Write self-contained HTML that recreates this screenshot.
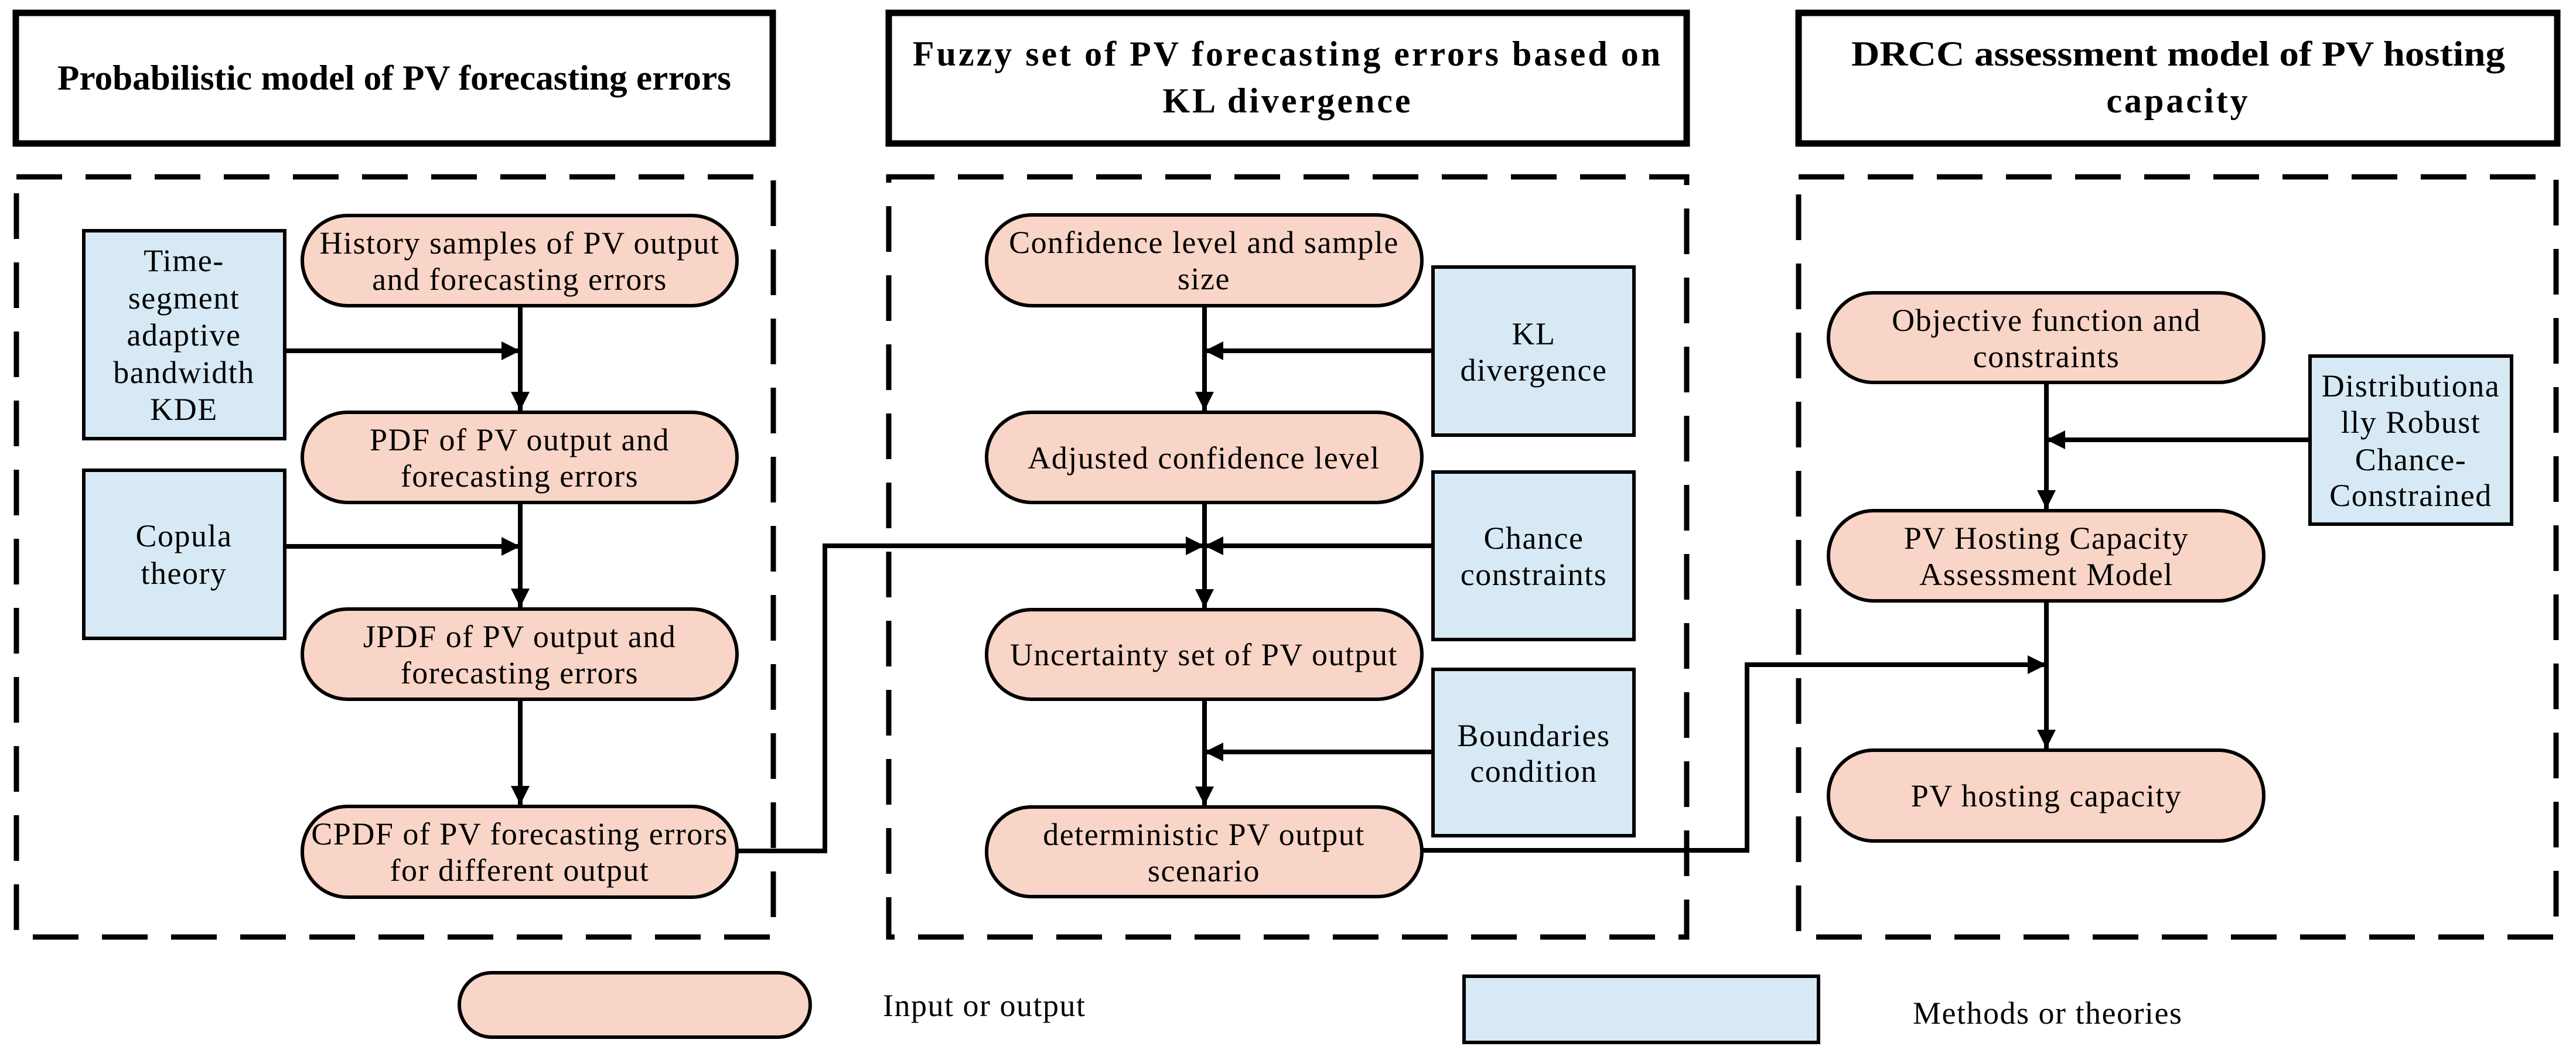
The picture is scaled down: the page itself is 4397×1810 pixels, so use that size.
<!DOCTYPE html>
<html><head><meta charset="utf-8"><style>
html,body{margin:0;padding:0;background:#fff;}
svg{display:block;}
text{font-family:"Liberation Serif",serif;fill:#000;}
.t{font-size:60px;font-weight:bold;letter-spacing:4px;}
.b{font-size:54px;letter-spacing:1.5px;}
</style></head><body>
<svg width="4397" height="1810" viewBox="0 0 4397 1810" xmlns="http://www.w3.org/2000/svg">
<defs>
<marker id="a" viewBox="0 0 10 10" refX="10" refY="5" markerWidth="4" markerHeight="4" markerUnits="strokeWidth" orient="auto"><path d="M0,0L10,5L0,10z" fill="#000"/></marker>
</defs>
<g fill="#fff" stroke="#000" stroke-width="11">
<rect x="27" y="22" width="1292" height="223"/>
<rect x="1517" y="22" width="1362" height="223"/>
<rect x="3070" y="22" width="1295" height="223"/>
</g>
<text class="t" x="98" y="153" textLength="1150" lengthAdjust="spacingAndGlyphs" style="letter-spacing:0">Probabilistic model of PV forecasting errors</text>
<text class="t" x="2198" y="112" text-anchor="middle">Fuzzy set of PV forecasting errors based on</text>
<text class="t" x="2198" y="192" text-anchor="middle">KL divergence</text>
<text class="t" x="3160" y="112" textLength="1116" lengthAdjust="spacingAndGlyphs" style="letter-spacing:0">DRCC assessment model of PV hosting</text>
<text class="t" x="3718" y="192" text-anchor="middle">capacity</text>
<g fill="none" stroke="#000" stroke-width="9" stroke-dasharray="78 40">
<rect x="28" y="302" width="1292" height="1298"/>
<rect x="1517" y="302" width="1362" height="1298"/>
<rect x="3070" y="302" width="1293" height="1298"/>
</g>
<g fill="#f8d5c6" stroke="#000" stroke-width="6">
<rect x="516" y="368" width="742" height="154" rx="77"/>
<rect x="516" y="704" width="742" height="154" rx="77"/>
<rect x="516" y="1040" width="742" height="154" rx="77"/>
<rect x="516" y="1377" width="742" height="155" rx="77"/>
<rect x="1684" y="367" width="743" height="155" rx="77"/>
<rect x="1684" y="704" width="743" height="154" rx="77"/>
<rect x="1684" y="1041" width="743" height="153" rx="76"/>
<rect x="1684" y="1378" width="743" height="153" rx="76"/>
<rect x="3121" y="500" width="743" height="153" rx="76"/>
<rect x="3121" y="872" width="743" height="154" rx="77"/>
<rect x="3121" y="1281" width="743" height="155" rx="77"/>
<rect x="784" y="1661" width="599" height="110" rx="55"/>
</g>
<g fill="#d6e9f5" stroke="#000" stroke-width="6">
<rect x="143" y="394" width="343" height="355"/>
<rect x="143" y="803" width="343" height="287"/>
<rect x="2446" y="456" width="343" height="287"/>
<rect x="2446" y="806" width="343" height="286"/>
<rect x="2446" y="1143" width="343" height="284"/>
<rect x="3943" y="608" width="344" height="287"/>
<rect x="2499" y="1667" width="605" height="113"/>
</g>
<g stroke="#000" stroke-width="8" fill="none">
<line x1="888" y1="522" x2="888" y2="701" marker-end="url(#a)"/>
<line x1="888" y1="858" x2="888" y2="1037" marker-end="url(#a)"/>
<line x1="888" y1="1194" x2="888" y2="1374" marker-end="url(#a)"/>
<line x1="486" y1="599" x2="888" y2="599" marker-end="url(#a)"/>
<line x1="486" y1="933" x2="888" y2="933" marker-end="url(#a)"/>
<line x1="2056" y1="522" x2="2056" y2="701" marker-end="url(#a)"/>
<line x1="2056" y1="858" x2="2056" y2="1038" marker-end="url(#a)"/>
<line x1="2056" y1="1194" x2="2056" y2="1375" marker-end="url(#a)"/>
<line x1="2446" y1="599" x2="2056" y2="599" marker-end="url(#a)"/>
<line x1="2446" y1="932" x2="2056" y2="932" marker-end="url(#a)"/>
<line x1="2446" y1="1284" x2="2056" y2="1284" marker-end="url(#a)"/>
<polyline points="1258,1453 1408,1453 1408,932 2056,932" marker-end="url(#a)"/>
<line x1="3493" y1="653" x2="3493" y2="869" marker-end="url(#a)"/>
<line x1="3493" y1="1026" x2="3493" y2="1278" marker-end="url(#a)"/>
<line x1="3943" y1="751" x2="3493" y2="751" marker-end="url(#a)"/>
<polyline points="2427,1452 2982,1452 2982,1135 3493,1135" marker-end="url(#a)"/>
</g>
<g text-anchor="middle">
<text class="b" x="314" y="463">Time-</text>
<text class="b" x="314" y="527">segment</text>
<text class="b" x="314" y="590">adaptive</text>
<text class="b" x="314" y="654">bandwidth</text>
<text class="b" x="314" y="717">KDE</text>
<text class="b" x="314" y="933">Copula</text>
<text class="b" x="314" y="997">theory</text>
<text class="b" x="887" y="433">History samples of PV output</text>
<text class="b" x="887" y="495">and forecasting errors</text>
<text class="b" x="887" y="769">PDF of PV output and</text>
<text class="b" x="887" y="831">forecasting errors</text>
<text class="b" x="887" y="1105">JPDF of PV output and</text>
<text class="b" x="887" y="1167">forecasting errors</text>
<text class="b" x="887" y="1442">CPDF of PV forecasting errors</text>
<text class="b" x="887" y="1504">for different output</text>
<text class="b" x="2055" y="432">Confidence level and sample</text>
<text class="b" x="2055" y="494">size</text>
<text class="b" x="2055" y="800">Adjusted confidence level</text>
<text class="b" x="2055" y="1136">Uncertainty set of PV output</text>
<text class="b" x="2055" y="1443">deterministic PV output</text>
<text class="b" x="2055" y="1505">scenario</text>
<text class="b" x="2618" y="588">KL</text>
<text class="b" x="2618" y="650">divergence</text>
<text class="b" x="2618" y="937">Chance</text>
<text class="b" x="2618" y="999">constraints</text>
<text class="b" x="2618" y="1274">Boundaries</text>
<text class="b" x="2618" y="1335">condition</text>
<text class="b" x="3493" y="565">Objective function and</text>
<text class="b" x="3493" y="627">constraints</text>
<text class="b" x="3493" y="937">PV Hosting Capacity</text>
<text class="b" x="3493" y="999">Assessment Model</text>
<text class="b" x="3493" y="1377">PV hosting capacity</text>
<text class="b" x="4115" y="677">Distributiona</text>
<text class="b" x="4115" y="739">lly Robust</text>
<text class="b" x="4115" y="803">Chance-</text>
<text class="b" x="4115" y="864">Constrained</text>
</g>
<text class="b" x="1507" y="1735">Input or output</text>
<text class="b" x="3265" y="1748">Methods or theories</text>
</svg>
</body></html>
